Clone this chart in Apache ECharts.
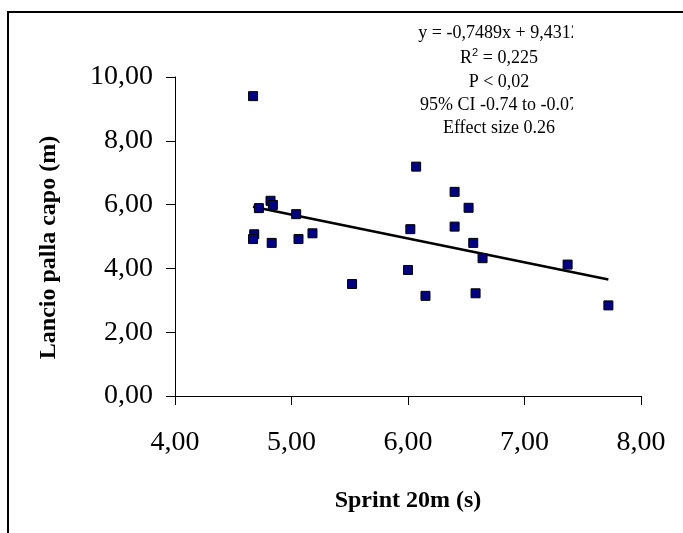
<!DOCTYPE html>
<html>
<head>
<meta charset="utf-8">
<style>
  html, body { margin: 0; padding: 0; background: #ffffff; }
  #chart { width: 683px; height: 533px; }
</style>
<script src="https://cdn.jsdelivr.net/npm/echarts@6/dist/echarts.min.js"></script>
</head>
<body>
<div id="chart"></div>
<script>
// Sprint 20m times (s) and ball throw distances (m), one pair per athlete
const sprint20m = [4.67, 4.72, 4.82, 4.84, 5.04, 4.68, 4.67, 4.83, 5.06, 5.18, 5.52, 6.07,
                   6.02, 6.00, 6.15, 6.40, 6.40, 6.52, 6.56, 6.64, 6.58, 7.37, 7.72];
const lancioPalla = [9.40, 5.89, 6.12, 5.99, 5.70, 5.07, 4.92, 4.80, 4.92, 5.10, 3.51, 7.19,
                     5.23, 3.95, 3.14, 6.40, 5.31, 5.90, 4.80, 4.32, 3.22, 4.12, 2.84];

// Linear fit coefficients
const slope = -0.7489;
const intercept = 9.4312;

const statsLines = [
  'y = -0,7489x + 9,4312',
  'R{sup|2} = 0,225',
  'P < 0,02',
  '95% CI -0.74 to -0.07',
  'Effect size 0.26'
];

const xTicks = { min: 4, max: 8, interval: 1 };
const yTicks = { min: 0, max: 10, interval: 2 };

const serif = "'Liberation Serif', 'Times New Roman', 'DejaVu Serif', serif";
const fmt = v => v.toFixed(2).replace('.', ',');

const points = sprint20m.map((x, i) => [x, lancioPalla[i]]);
const xMin = Math.min(...sprint20m);
const xMax = Math.max(...sprint20m);
const fitLine = [[xMin, slope * xMin + intercept], [xMax, slope * xMax + intercept]];

const chart = echarts.init(document.getElementById('chart'), null, { renderer: 'canvas' });

const statsY = [33, 58, 82, 105, 128];
const statsGraphics = statsLines.map((t, i) => ({
  type: 'text',
  x: 499,
  y: statsY[i],
  z: 10,
  style: {
    text: t,
    x: 0,
    y: 0,
    align: 'center',
    verticalAlign: 'middle',
    font: '18px ' + serif,
    fill: '#000000',
    rich: { sup: { fontSize: 11, verticalAlign: 'top', padding: [0, 0, 10, 0] } }
  }
}));

chart.setOption({
  animation: false,
  backgroundColor: '#ffffff',
  grid: { left: 175, right: 42, top: 77, bottom: 137, containLabel: false },
  xAxis: {
    type: 'value',
    min: xTicks.min, max: xTicks.max, interval: xTicks.interval,
    name: 'Sprint 20m (s)',
    nameLocation: 'middle',
    nameGap: 93,
    nameTextStyle: { fontFamily: serif, fontSize: 24, fontWeight: 'bold', color: '#000' },
    axisLine: { lineStyle: { color: '#000', width: 1 } },
    axisTick: { show: true, inside: false, length: 9, lineStyle: { color: '#000', width: 1 } },
    axisLabel: { formatter: fmt, fontFamily: serif, fontSize: 28, color: '#000', margin: 33 },
    splitLine: { show: false }
  },
  yAxis: {
    type: 'value',
    min: yTicks.min, max: yTicks.max, interval: yTicks.interval,
    name: 'Lancio palla capo (m)',
    nameLocation: 'middle',
    nameGap: 114,
    nameTextStyle: { fontFamily: serif, fontSize: 24, fontWeight: 'bold', color: '#000', padding: [0, 22, 0, 0] },
    axisLine: { show: true, lineStyle: { color: '#000', width: 1 } },
    axisTick: { show: true, inside: false, length: 9, lineStyle: { color: '#000', width: 1 } },
    axisLabel: { formatter: fmt, fontFamily: serif, fontSize: 28, color: '#000', margin: 22 },
    splitLine: { show: false }
  },
  series: [
    {
      type: 'line',
      data: fitLine,
      showSymbol: false,
      symbol: 'none',
      lineStyle: { color: '#000', width: 2.6 },
      z: 2
    },
    {
      type: 'scatter',
      data: points,
      symbol: 'rect',
      symbolSize: 9,
      itemStyle: { color: '#000080', borderColor: '#000000', borderWidth: 1, opacity: 1 },
      z: 3
    }
  ],
  graphic: [
    // outer frame, running off the right and bottom edges
    {
      type: 'rect',
      shape: { x: 8, y: 12, width: 720, height: 600 },
      style: { fill: null, stroke: '#000', lineWidth: 2 },
      z: 1
    },
    ...statsGraphics,
    // the equation block is cut at its right side
    {
      type: 'rect',
      shape: { x: 573, y: 20, width: 40, height: 120 },
      style: { fill: '#ffffff' },
      z: 11
    }
  ]
});
</script>
</body>
</html>
